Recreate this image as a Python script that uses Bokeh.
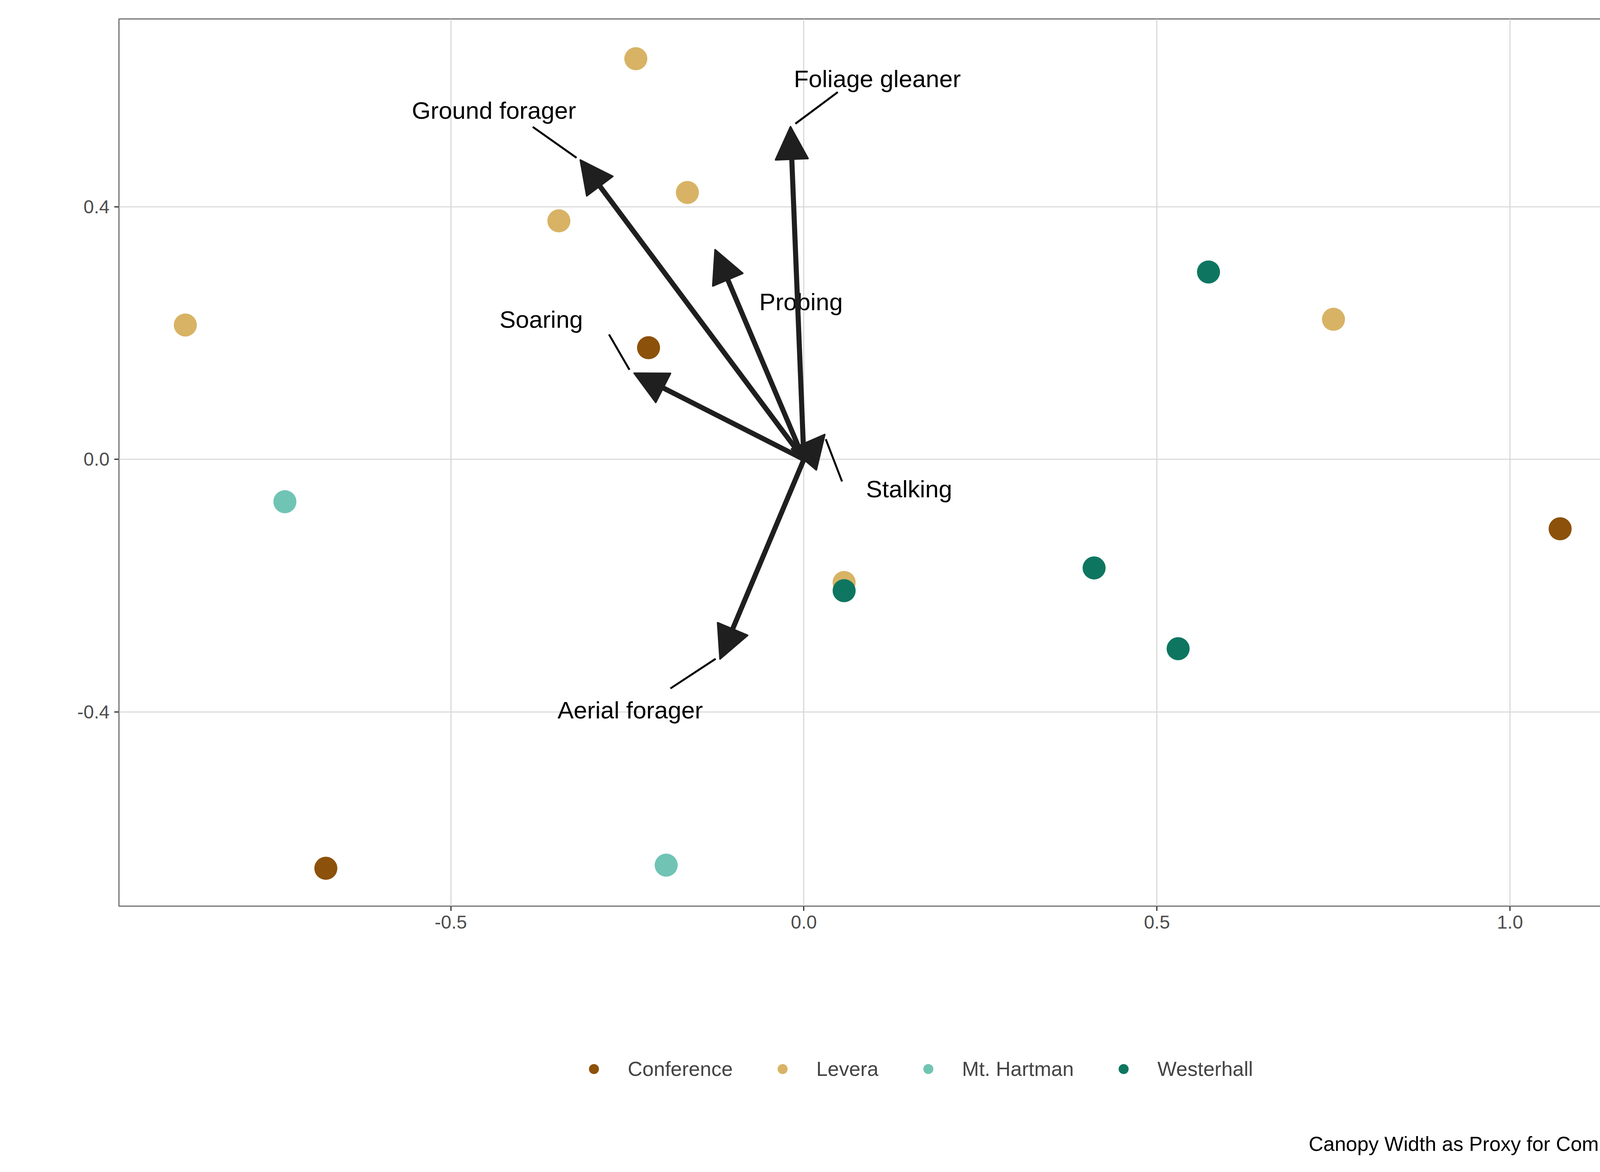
from bokeh.plotting import figure
from bokeh.layouts import column
from bokeh.models import (Range1d, Arrow, NormalHead, Label, Legend, LegendItem,
                          FixedTicker, CustomJSTickFormatter)
from bokeh.core.properties import value
from bokeh.embed import file_html
from bokeh.resources import INLINE
import math

FONT = "Liberation Sans"

# site scores
sites = ["Conference", "Levera", "Mt. Hartman", "Westerhall"]
colors = ["#8c510a", "#d8b365", "#70c4b4", "#0e7660"]
site_x = {
    "Conference": [-0.22, 1.071, -0.677],
    "Levera": [-0.238, -0.165, -0.347, -0.876, 0.75, 0.057],
    "Mt. Hartman": [-0.735, -0.195],
    "Westerhall": [0.573, 0.057, 0.411, 0.53],
}
site_y = {
    "Conference": [0.177, -0.11, -0.648],
    "Levera": [0.635, 0.423, 0.378, 0.213, 0.222, -0.195],
    "Mt. Hartman": [-0.067, -0.643],
    "Westerhall": [0.297, -0.208, -0.172, -0.30],
}

# foraging guild vectors
guilds = ["Foliage gleaner", "Ground forager", "Probing", "Soaring", "Stalking", "Aerial forager"]
vec_x = [-0.019, -0.317, -0.126, -0.241, 0.03, -0.119]
vec_y = [0.528, 0.475, 0.333, 0.137, 0.04, -0.317]
lab_x = [0.104, -0.439, -0.004, -0.372, 0.149, -0.246]
lab_y = [0.603, 0.553, 0.25, 0.222, -0.047, -0.397]
# leader segments (near arrow tip -> near label)
seg_x0 = [-0.012, -0.322, -0.247, 0.031, -0.125]
seg_y0 = [0.532, 0.478, 0.142, 0.032, -0.316]
seg_x1 = [0.048, -0.384, -0.276, 0.054, -0.189]
seg_y1 = [0.582, 0.527, 0.198, -0.035, -0.363]

x_ticks = [-0.5, 0.0, 0.5, 1.0]
y_ticks = [-0.4, 0.0, 0.4]

W = 4184
H_MAIN = 2540
H_LEG = 444
FRAME_W = 3863
FRAME_H = 2271

p = figure(width=W, height=H_MAIN, output_backend="svg", toolbar_location=None,
           x_range=Range1d(-0.970, 1.167), y_range=Range1d(-0.708, 0.698),
           min_border_left=304, min_border_right=17, min_border_top=48,
           min_border_bottom=H_MAIN - 48 - FRAME_H)
p.outline_line_color = "#7f7f7f"
p.outline_line_width = 3.5
fmt = CustomJSTickFormatter(code="return tick.toFixed(1);")
for ax in (p.xaxis[0], p.yaxis[0]):
    ax.axis_line_color = None
    ax.major_tick_line_color = "#333333"
    ax.major_tick_line_width = 3
    ax.major_tick_out = 12
    ax.major_tick_in = 0
    ax.minor_tick_line_color = None
    ax.major_label_text_font = FONT
    ax.major_label_text_font_size = "48px"
    ax.major_label_text_color = "#4d4d4d"
    ax.major_label_standoff = 12
    ax.formatter = fmt
p.xaxis.ticker = FixedTicker(ticks=x_ticks)
p.yaxis.ticker = FixedTicker(ticks=y_ticks)
p.xgrid.ticker = FixedTicker(ticks=x_ticks)
p.ygrid.ticker = FixedTicker(ticks=y_ticks)
p.grid.grid_line_color = "#d6d6d6"
p.grid.grid_line_width = 2.7

for s, c in zip(sites, colors):
    p.scatter(site_x[s], site_y[s], size=59, color=c, line_color=None)

for vx, vy in zip(vec_x, vec_y):
    p.add_layout(Arrow(x_start=0.0, y_start=0.0, x_end=vx, y_end=vy,
                       line_color="#1f1f1f", line_width=13,
                       end=NormalHead(size=85, fill_color="#1f1f1f", line_color="#1f1f1f", line_width=3)))

p.segment(seg_x0, seg_y0, seg_x1, seg_y1, line_color="black", line_width=5)
p.text(lab_x, lab_y, text=guilds, text_font=value(FONT), text_font_size="62px",
       text_align="center", text_baseline="middle", text_color="black")

# axis titles (frame-relative screen units)
p.add_layout(Label(x=-224, y=FRAME_H, x_units="screen", y_units="screen", text="NMDS2",
                   angle=math.pi / 2, text_align="right", text_baseline="middle",
                   text_font=FONT, text_font_size="64px", text_color="black"))
p.add_layout(Label(x=FRAME_W, y=-156, x_units="screen", y_units="screen", text="NMDS1",
                   text_align="right", text_baseline="middle",
                   text_font=FONT, text_font_size="64px", text_color="black"))

# legend + caption strip
q = figure(width=W, height=H_LEG, output_backend="svg", toolbar_location=None,
           x_range=Range1d(10, 11), y_range=Range1d(10, 11),
           min_border=0)
q.axis.visible = False
q.grid.visible = False
q.outline_line_color = None
items = []
for s, c in zip(sites, colors):
    r = q.scatter(site_x[s], site_y[s], size=59, color=c, line_color=None)
    items.append(LegendItem(label=s, renderers=[r]))
legend = Legend(items=items, orientation="horizontal", location=(1184, H_LEG - 196 - 32),
                label_text_font=FONT, label_text_font_size="52px",
                glyph_width=64, glyph_height=64, label_standoff=55, spacing=95,
                padding=0, margin=0, border_line_color=None, background_fill_alpha=0)
q.add_layout(legend, "center")
q.add_layout(Label(x=4167, y=H_LEG - 387, x_units="screen", y_units="screen",
                   text="Canopy Width as Proxy for Community Structure",
                   text_align="right", text_baseline="middle",
                   text_font=FONT, text_font_size="52px", text_color="black"))

layout = column(p, q, spacing=0)
open("out.html", "w").write(file_html(layout, INLINE))
